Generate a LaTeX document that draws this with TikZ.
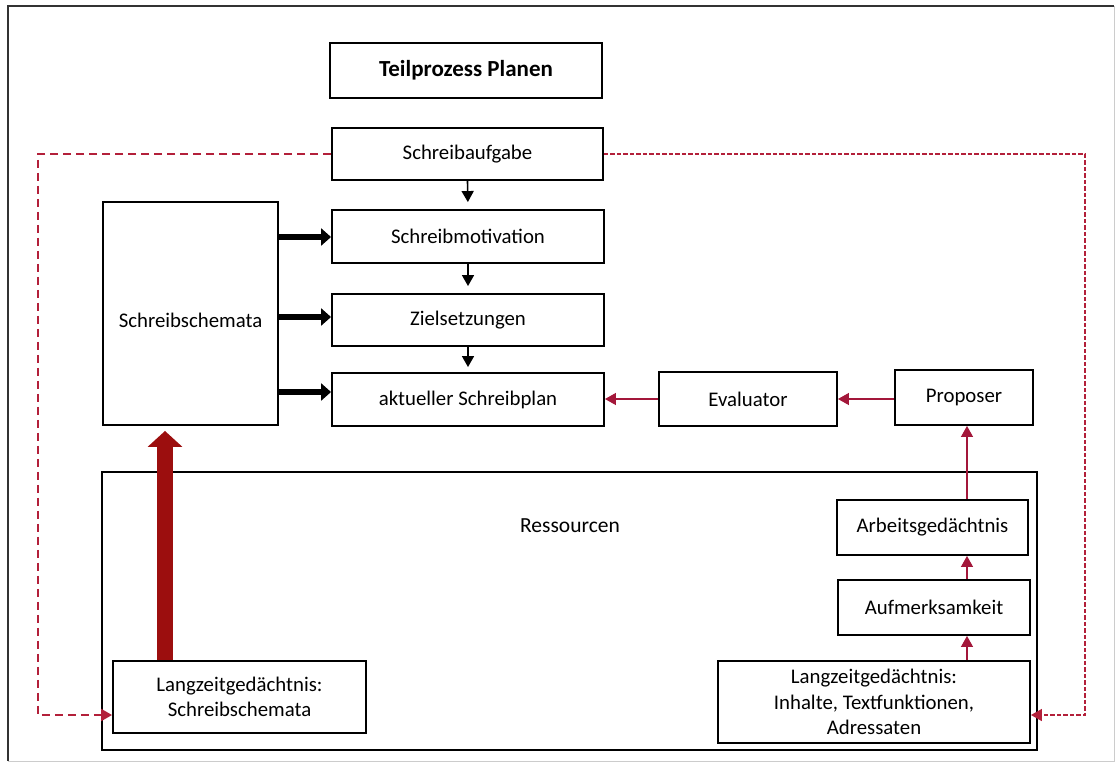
\documentclass[tikz,border=0pt]{standalone}
\usepackage{fontspec}
\setmainfont{Carlito}
\usetikzlibrary{arrows.meta,calc}

\definecolor{linkred}{HTML}{A3173A}
\definecolor{dashred}{HTML}{B3203A}
\definecolor{bigred}{HTML}{9C0E0E}

\tikzset{
  box/.style={draw=black, line width=1.9pt, fill=white, align=center, inner sep=0pt,
    font=\fontsize{20.8}{25.5}\selectfont},
  titlebox/.style={box, line width=2.8pt, font=\bfseries\fontsize{23}{27}\selectfont},
  flowarrow/.style={line width=1.6pt, -{Triangle[length=11pt,width=12pt]}, shorten >=7pt},
  feedarrow/.style={line width=6.5pt, -{Triangle[length=10pt,width=17pt]}},
  redarrow/.style={draw=linkred, line width=1.3pt, -{Triangle[length=11pt,width=12pt]}, linkred},
  bigarrow/.style={draw=bigred, line width=16pt, -{Triangle[length=16pt,width=34pt]}, bigred},
  taskdash/.style={draw=dashred, line width=2.2pt, dash pattern=on 8pt off 5pt,
    -{Triangle[length=11pt,width=12pt]}, dashred},
  taskdot/.style={draw=dashred, line width=1.6pt, dash pattern=on 4.5pt off 2pt,
    -{Triangle[length=11pt,width=12pt]}, dashred},
}

\begin{document}
\begin{tikzpicture}[x=1pt,y=-1pt]
  \useasboundingbox (0,0) rectangle (1117,764);
  \fill[white] (0,0) rectangle (1117,764);

  % page frame
  \draw[black!20, line width=1pt] (1114,6) -- (1114,761) -- (8,761);
  \draw[black!80, line width=2.2pt] (1114,6) -- (8,6) -- (8,761);

  % resources frame
  \node[box, minimum width=935pt, minimum height=278pt] (res) at (569.5,611) {};
  \node[font=\fontsize{21.5}{26}\selectfont, inner sep=0pt] (reslabel) at (570,526) {Ressourcen};

  % planning chain
  \node[titlebox, minimum width=272pt, minimum height=55pt] (title) at (466,70.5) {Teilprozess Planen};
  \node[box, minimum width=271pt, minimum height=52pt] (aufg) at (467.5,154) {Schreibaufgabe};
  \node[box, minimum width=272pt, minimum height=53pt] (motiv) at (468,236.5) {Schreibmotivation};
  \node[box, minimum width=272pt, minimum height=52pt] (ziel) at (468,320) {Zielsetzungen};
  \node[box, minimum width=272pt, minimum height=53pt] (plan) at (468,399.5) {aktueller Schreibplan};
  \node[box, minimum width=175pt, minimum height=223pt] (schemata) at (190.5,313.5) {};
  \node[font=\fontsize{20.8}{25.5}\selectfont, inner sep=0pt] (schematext) at (190.5,320) {Schreibschemata};

  \node[box, minimum width=178pt, minimum height=54pt] (eval) at (748,399) {Evaluator};
  \node[box, minimum width=138pt, minimum height=55pt] (prop) at (964,397.5) {Proposer};

  % resources
  \node[box, minimum width=191pt, minimum height=55pt] (arb) at (932.5,527.5) {Arbeitsgedächtnis};
  \node[box, minimum width=192pt, minimum height=55pt] (auf) at (934,607.5) {Aufmerksamkeit};
  \node[box, minimum width=312pt, minimum height=82pt] (lzr) at (874,702)
    {Langzeitgedächtnis:\\Inhalte, Textfunktionen,\\Adressaten};
  \node[box, minimum width=253pt, minimum height=72pt] (lzl) at (239.5,697)
    {Langzeitgedächtnis:\\Schreibschemata};

  % vertical flow
  \draw[flowarrow] (aufg.south) -- (motiv.north);
  \draw[flowarrow] (motiv.south) -- (ziel.north);
  \draw[flowarrow, shorten >=5pt] (ziel.south) -- (plan.north);

  % schemata feeding the plan
  \draw[feedarrow] (schemata.east |- 0,237) -- (motiv.west |- 0,237);
  \draw[feedarrow] (schemata.east |- 0,317) -- (ziel.west |- 0,317);
  \draw[feedarrow] (schemata.east |- 0,392) -- (plan.west |- 0,392);

  % long-term memory to schemata
  \draw[bigarrow, shorten >=5pt] (lzl.north -| 165,0) -- (schemata.south -| 165,0);

  % proposer / evaluator loop
  \draw[redarrow] (prop.west |- 0,399) -- (eval.east |- 0,399);
  \draw[redarrow] (eval.west |- 0,399) -- (plan.east |- 0,399);
  \draw[redarrow] (arb.north -| 967,0) -- (prop.south -| 967,0);
  \draw[redarrow] (auf.north -| 967,0) -- (arb.south -| 967,0);
  \draw[redarrow] (lzr.north -| 967,0) -- (auf.south -| 967,0);

  % task links to long-term memory
  \coordinate (lt) at (38,154);
  \coordinate (lb) at (38,715);
  \coordinate (rt) at (1085,154);
  \coordinate (rb) at (1085,715);
  \draw[taskdash] (aufg.west) -- (lt) -- (lb) -- (lzl.west |- lb);
  \draw[taskdot] (aufg.east) -- (rt) -- (rb) -- (lzr.east |- rb);
\end{tikzpicture}
\end{document}
